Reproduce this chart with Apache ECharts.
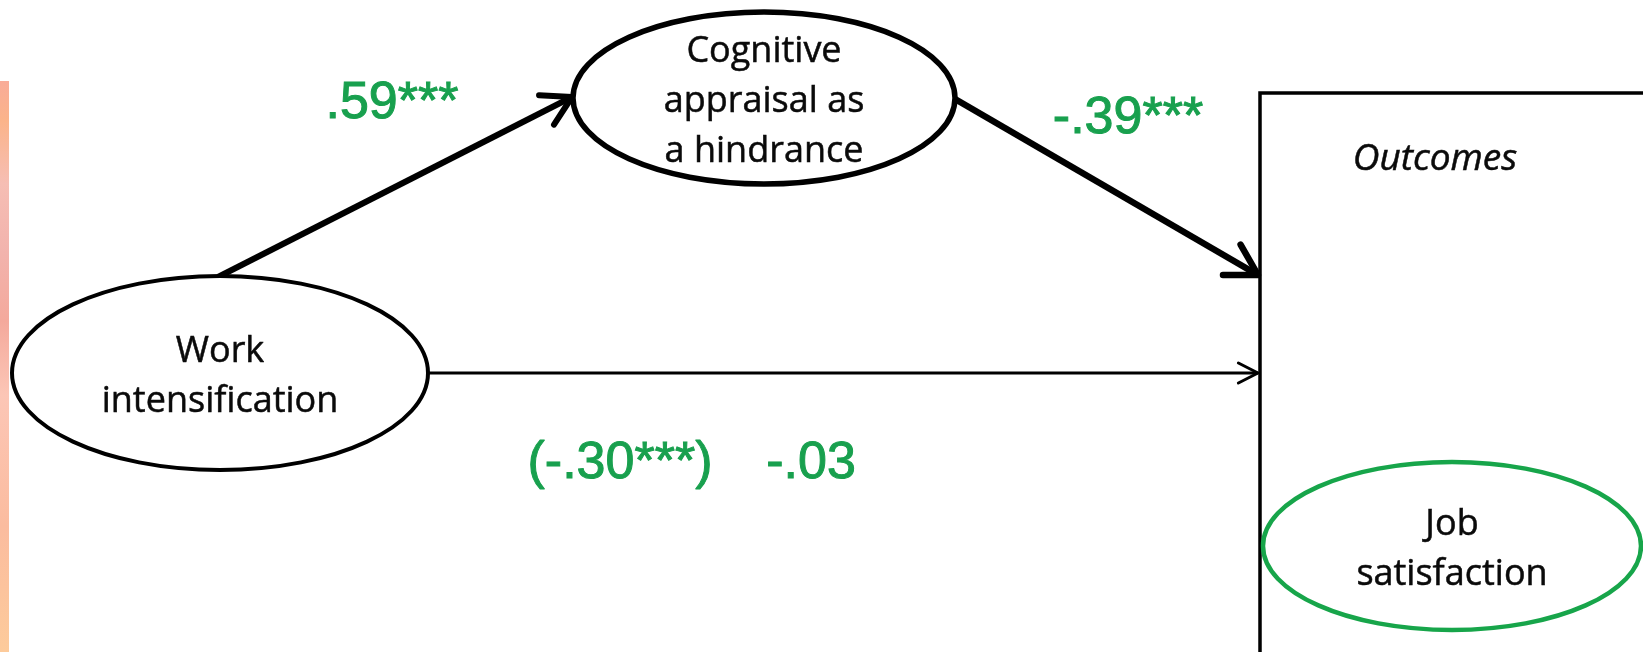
<!DOCTYPE html>
<html>
<head>
<meta charset="utf-8">
<title>Work intensification path model</title>
<script src="https://cdn.jsdelivr.net/npm/echarts@6/dist/echarts.min.js"></script>
<style>
  html, body { margin: 0; padding: 0; background: #fff; }
  #chart { width: 1643px; height: 652px; }
</style>
</head>
<body>
<div id="chart"></div>
<script>
// model variables (ellipse nodes)
const nodeNames = ['Work\nintensification', 'Cognitive\nappraisal as\na hindrance', 'Job\nsatisfaction']
const nodeCenters = [[220, 373], [764, 98], [1452, 546]]
const nodeRadii = [[208, 97], [191, 86], [189, 84]]

// paths between nodes
const pathFrom = [[218, 277], [955, 99], [428, 373]]
const pathTo = [[572, 97], [1258, 275], [1258, 373]]

// path coefficients
const coefLabels = ['.59***', '-.39***', '(-.30***)', '-.03']
const coefPos = [[392, 104], [1128, 119], [620, 464], [811, 464]]

// outcomes frame
const boxTitle = 'Outcomes'
const boxCorner = [1260, 93]
const boxTitlePos = [1435, 159]

const GREEN = '#18a04e'

const chart = echarts.init(document.getElementById('chart'))

const nodeStyle = [
  { stroke: '#000', lineWidth: 4 },
  { stroke: '#000', lineWidth: 5.5 },
  { stroke: '#17a54a', lineWidth: 4.5 }
]
const pathStyle = [
  { lineWidth: 6, head: 33, angle: 30 },
  { lineWidth: 6.5, head: 35, angle: 30 },
  { lineWidth: 3, head: 22, angle: 27 }
]

function renderNode(params, api) {
  const i = params.dataIndex
  const c = api.coord([api.value(0), api.value(1)])
  const s = api.size([api.value(2), api.value(3)])
  return {
    type: 'group',
    children: [{
      type: 'ellipse',
      shape: { cx: c[0], cy: c[1], rx: s[0], ry: s[1] },
      style: { fill: '#fff', stroke: nodeStyle[i].stroke, lineWidth: nodeStyle[i].lineWidth }
    }, {
      type: 'text',
      x: c[0],
      y: c[1] + 4,
      style: {
        text: nodeNames[i],
        fill: '#0a0a0a',
        stroke: '#0a0a0a',
        lineWidth: 0.5,
        fontFamily: 'Open Sans',
        fontSize: 36,
        lineHeight: 50,
        align: 'center',
        verticalAlign: 'middle'
      }
    }]
  }
}

function renderPath(params, api) {
  const i = params.dataIndex
  const a = api.coord([api.value(0), api.value(1)])
  const b = api.coord([api.value(2), api.value(3)])
  const st = pathStyle[i]
  const ang = Math.atan2(b[1] - a[1], b[0] - a[0]) + Math.PI
  const d = st.angle * Math.PI / 180
  const arm1 = [b[0] + st.head * Math.cos(ang - d), b[1] + st.head * Math.sin(ang - d)]
  const arm2 = [b[0] + st.head * Math.cos(ang + d), b[1] + st.head * Math.sin(ang + d)]
  return {
    type: 'group',
    children: [{
      type: 'line',
      shape: { x1: a[0], y1: a[1], x2: b[0], y2: b[1] },
      style: { stroke: '#000', lineWidth: st.lineWidth, lineCap: 'butt' }
    }, {
      type: 'polyline',
      shape: { points: [arm1, b, arm2] },
      style: { stroke: '#000', fill: null, lineWidth: st.lineWidth, lineCap: 'round', lineJoin: 'round' }
    }]
  }
}

chart.setOption({
  animation: false,
  backgroundColor: '#fff',
  grid: { left: 0, right: 0, top: 0, bottom: 0 },
  xAxis: { type: 'value', min: 0, max: 1643, show: false },
  yAxis: { type: 'value', min: 0, max: 652, inverse: true, show: false },
  series: [{
    // decorative strip on the left edge
    type: 'custom',
    silent: true,
    renderItem(params, api) {
      const p = api.coord([api.value(0), api.value(1)])
      const s = api.size([api.value(2), api.value(3)])
      return {
        type: 'rect',
        shape: { x: p[0], y: p[1], width: s[0], height: s[1] },
        style: {
          fill: new echarts.graphic.LinearGradient(0, 0, 0, 1, [
            { offset: 0, color: '#f9ab98' },
            { offset: 0.07, color: '#fbb48a' },
            { offset: 0.18, color: '#f6beb4' },
            { offset: 0.3, color: '#f2b3ad' },
            { offset: 0.42, color: '#f4a99c' },
            { offset: 0.55, color: '#fcc6b6' },
            { offset: 0.78, color: '#fbbc9f' },
            { offset: 1, color: '#fdcb9b' }
          ])
        }
      }
    },
    data: [[0, 81, 9, 571]]
  }, {
    type: 'custom',
    silent: true,
    renderItem(params, api) {
      const p = api.coord([api.value(0), api.value(1)])
      const t = api.coord(boxTitlePos)
      return {
        type: 'group',
        children: [{
          type: 'polyline',
          shape: { points: [[1700, p[1]], p, [p[0], 700]] },
          style: { stroke: '#000', fill: null, lineWidth: 3.5 }
        }, {
          type: 'text',
          x: t[0],
          y: t[1],
          style: {
            text: boxTitle,
            fill: '#0a0a0a',
            stroke: '#0a0a0a',
            lineWidth: 0.5,
            fontFamily: 'Open Sans',
            fontStyle: 'italic',
            fontSize: 37,
            align: 'center',
            verticalAlign: 'middle'
          }
        }]
      }
    },
    data: [boxCorner]
  }, {
    type: 'custom',
    silent: true,
    renderItem: renderPath,
    data: pathFrom.map((f, i) => [f[0], f[1], pathTo[i][0], pathTo[i][1]])
  }, {
    type: 'custom',
    silent: true,
    renderItem: renderNode,
    data: nodeCenters.map((c, i) => [c[0], c[1], nodeRadii[i][0], nodeRadii[i][1]])
  }, {
    type: 'scatter',
    silent: true,
    symbolSize: 0,
    itemStyle: { opacity: 1 },
    label: {
      show: true,
      position: 'inside',
      formatter: p => coefLabels[p.dataIndex],
      color: GREEN,
      opacity: 1,
      fontFamily: 'Liberation Sans, Arial, sans-serif',
      fontSize: 52,
      textBorderColor: GREEN,
      textBorderWidth: 1
    },
    data: coefPos
  }]
})
</script>
</body>
</html>
